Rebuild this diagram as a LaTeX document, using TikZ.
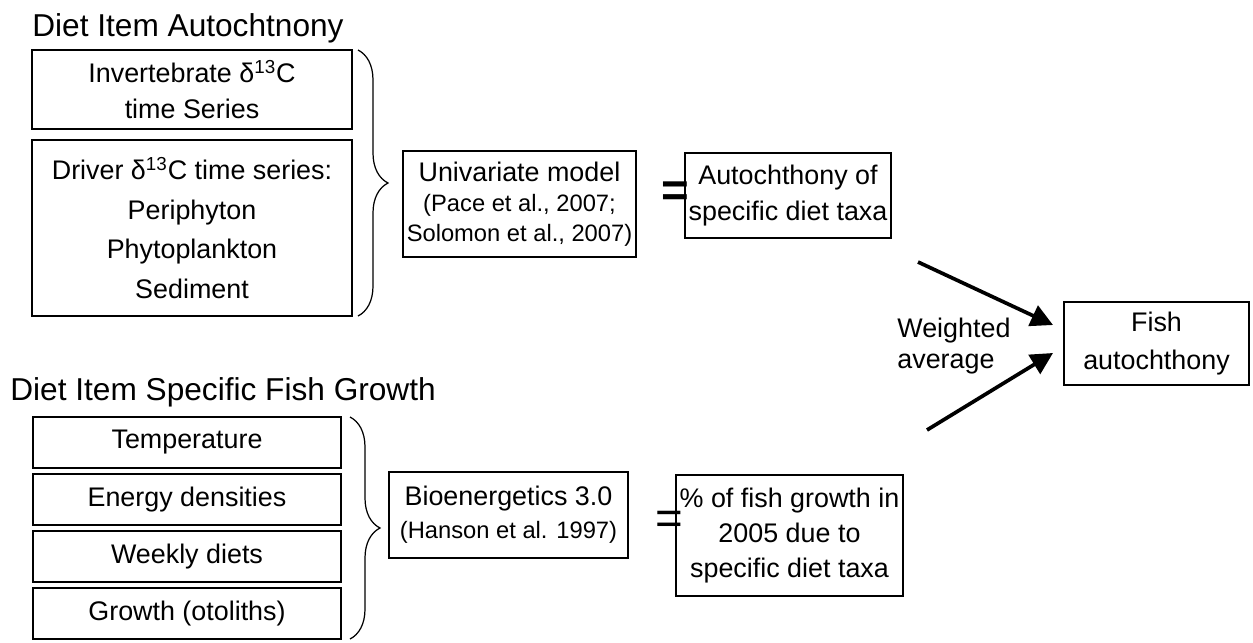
\documentclass[tikz,border=0pt]{standalone}
\usepackage{fontspec}
\setmainfont{Liberation Sans}
\usetikzlibrary{positioning, arrows.meta, calc, decorations.pathreplacing}

\begin{document}
\begin{tikzpicture}[
    >={Triangle[length=0.44cm, width=0.44cm]},
    node distance=0.12cm,
    box/.style={rectangle, draw, line width=1.1pt, outer sep=0pt, align=center, inner sep=2pt, font=\fontsize{15.3}{20}\selectfont},
    inbox/.style={box, minimum width=6.4cm},
    growbox/.style={box, minimum width=6.16cm, minimum height=1.02cm},
    header/.style={anchor=base west, inner sep=0pt, font=\fontsize{18}{22}\selectfont},
    eqsign/.style={inner sep=0pt, font=\fontsize{27}{30}\selectfont},
    small/.style={font=\fontsize{13.5}{17}\selectfont},
    curly/.style={decorate, decoration={brace, amplitude=0.6cm}, line width=0.7pt},
    arrow/.style={->, line width=2.1pt}
]
\useasboundingbox (0,0) rectangle (25.06,-12.84);

% Autochthony part
\node[header] (hdr1) at (0.64,-0.72) {Diet Item Autochtnony};

\node[inbox, minimum height=1.58cm, anchor=north west] (inv) at (0.64,-1.0) {
    Invertebrate δ\textsuperscript{13}C\\
    time Series
};

\node[inbox, minimum height=3.52cm, below=0.22cm of inv, font=\fontsize{15.3}{22.7}\selectfont] (drv) {
    Driver δ\textsuperscript{13}C time series:\\
    Periphyton\\
    Phytoplankton\\
    Sediment
};

\draw[curly] ($(inv.north east)+(0.12,0)$) -- ($(drv.south east)+(0.12,0)$);

% Model
\node[box, minimum width=4.66cm, minimum height=2.12cm, font=\fontsize{15.3}{17}\selectfont] (uni) at (10.39,-4.08) {
    Univariate model\\
    {\small\fontsize{13.5}{17}\selectfont (Pace et al., 2007;}\\
    {\fontsize{13.5}{17}\selectfont Solomon et al., 2007)}
};

\node[eqsign, font=\fontsize{27}{30}\selectfont\bfseries] (eq1) at (13.5,-3.88) {=};

\node[box, minimum width=3.6cm, minimum height=1.7cm] (aut) at (15.76,-3.91) {
    Autochthony of\\
    specific diet taxa
};

% Fish
\node[box, minimum width=3.7cm, minimum height=1.66cm, font=\fontsize{15.3}{21.5}\selectfont] (fish) at (23.13,-6.87) {
    Fish\\
    autochthony
};

\node[align=left, anchor=west, inner sep=0pt, font=\fontsize{15.3}{18}\selectfont] (wavg) at (17.94,-6.92) {
    Weighted\\
    average
};

\coordinate (a1) at (18.36,-5.24);
\coordinate (a2) at (18.54,-8.6);

% Growth part
\node[header] (hdr2) at (0.2,-8.0) {Diet Item Specific Fish Growth};

\node[growbox, anchor=north west] (temp) at (0.66,-8.34) {Temperature};
\node[growbox, below=of temp] (energy) {Energy densities};
\node[growbox, below=of energy] (weekly) {Weekly diets};
\node[growbox, below=of weekly] (growth) {Growth (otoliths)};

\draw[curly] ($(temp.north east)+(0.18,0)$) -- ($(growth.south east)+(0.18,0)$);

\node[box, minimum width=4.78cm, minimum height=1.72cm, font=\fontsize{15.3}{19}\selectfont] (bio) at (10.17,-10.3) {
    Bioenergetics 3.0\\
    {\fontsize{13.5}{17}\selectfont (Hanson et al. 1997)}
};

\node[eqsign] (eq2) at (13.38,-10.46) {=};

\node[box, minimum width=3.62cm, minimum height=2.42cm, font=\fontsize{15.3}{20}\selectfont] (pct) at (15.79,-10.71) {
    \% of fish growth in\\
    2005 due to\\
    specific diet taxa
};

% Arrows
\draw[arrow] (a1) -- ([xshift=-0.22cm, yshift=0.37cm]fish.west);
\draw[arrow] (a2) -- ([xshift=-0.22cm, yshift=-0.19cm]fish.west);

\end{tikzpicture}
\end{document}
